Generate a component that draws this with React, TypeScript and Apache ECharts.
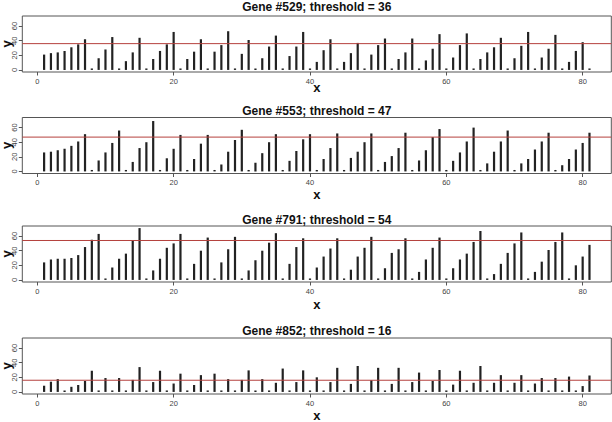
import React, { useEffect, useRef } from "react";
import * as echarts from "echarts";

const positions: number[] = Array.from({ length: 81 }, (_, i) => i + 1);

const geneIds = ["529", "553", "791", "852"];
const thresholds = [36, 47, 54, 16];

const gene529 = [
  21, 23, 24, 26, 31, 35, 42, 2, 16, 28,
  45, 2, 12, 24, 44, 2, 15, 26, 35, 52,
  2, 15, 25, 42, 2, 25, 34, 53, 2, 22,
  41, 2, 16, 32, 47, 2, 19, 32, 52, 2,
  11, 27, 42, 2, 11, 23, 37, 2, 21, 34,
  43, 2, 15, 24, 43, 2, 13, 29, 49, 2,
  17, 34, 50, 2, 15, 24, 31, 44, 2, 16,
  33, 52, 2, 17, 29, 48, 2, 11, 26, 38,
  2,
];
const gene553 = [
  26, 27, 29, 31, 35, 41, 51, 2, 15, 26,
  39, 56, 2, 13, 32, 40, 69, 2, 18, 31,
  50, 2, 17, 38, 50, 2, 9.5, 27, 43, 57,
  2, 12, 25, 40, 51, 2, 14.5, 28, 44, 51,
  2, 17, 32, 52, 2, 18.5, 27, 40, 52, 2,
  13, 21, 32, 53, 2, 15, 29, 47, 58, 2,
  14.5, 26, 41, 60, 2, 11, 27, 41, 56, 2,
  11, 17, 30, 41, 53, 2, 8.5, 17, 30, 39,
  53,
];
const gene791 = [
  24, 28, 29, 29, 30, 34, 45, 55, 63, 2,
  17, 29, 36, 54, 71, 2, 13, 29, 44, 50,
  63, 2, 22, 40, 58, 2, 24, 42, 59, 2,
  13, 27, 40, 51, 64, 2, 22, 45, 57, 2,
  17, 32, 43, 57, 2, 14, 32, 44, 59, 2,
  16, 37, 42, 57, 2, 11, 28, 44, 58, 2,
  16, 28, 36, 52, 67, 2, 8, 22, 37, 50,
  65, 2, 11, 25, 41, 52, 65, 2, 20, 32,
  48,
];
const gene852 = [
  8.5, 14, 17.5, 2, 7, 9.5, 15, 29, 2, 19,
  2, 19, 2, 16.5, 34, 2, 13.5, 29, 2, 11.5,
  25, 2, 9.5, 23, 2, 25, 2, 17.5, 2, 16.5,
  29.5, 2, 17.5, 2, 12.5, 32, 2, 13.5, 29.5, 2,
  20, 2, 13.5, 33, 2, 11, 35.5, 2, 16, 33,
  2, 11, 33, 2, 13.5, 26.5, 2, 15, 30, 2,
  10, 29, 2, 12.5, 35.5, 2, 12.5, 23, 2, 12.5,
  23, 2, 11.5, 19, 2, 19, 2, 21, 2, 8,
  22.5,
];
const geneValues = [gene529, gene553, gene791, gene852];

const xTicks = [0, 20, 40, 60, 80];
const yTicks = [0, 20, 40, 60];
const xRange = [-2.2, 84.2];
const yRange = [-2.84, 73.84];

const FONT = "'Liberation Sans', Arial, Helvetica, sans-serif";
const gridTops = [16, 117.5, 226, 338];
const gridHeight = 56;
const gridLeft = 22.3;
const gridRight = 0.7;
const titleCentres = [5.5, 109, 218.5, 329.5];
const xNameGaps = [10.7, 16.7, 17.7, 17];

export default function App() {
  const ref = useRef<HTMLDivElement>(null);

  useEffect(() => {
    if (!ref.current) return;
    const chart = echarts.init(ref.current, null, { renderer: "svg" });
    const plotCentre = gridLeft + (612 - gridLeft - gridRight) / 2;

    const grids = gridTops.map((top) => ({
      left: gridLeft,
      right: gridRight,
      top,
      height: gridHeight,
      containLabel: false,
      outerBoundsMode: "none",
      show: true,
      borderColor: "#555",
      borderWidth: 1,
      backgroundColor: "transparent",
    }));

    const xAxes = gridTops.map((_, i) => ({
      type: "value",
      gridIndex: i,
      position: "bottom",
      min: xRange[0],
      max: xRange[1],
      name: "x",
      nameLocation: "middle",
      nameGap: xNameGaps[i],
      nameMoveOverlap: false,
      nameTextStyle: { fontFamily: FONT, fontWeight: "bold", fontSize: 13, lineHeight: 9, color: "#111" },
      axisLine: { show: false, onZero: false },
      splitLine: { show: false },
      axisTick: { show: true, length: 3.5, customValues: xTicks, lineStyle: { color: "#555" } },
      axisLabel: { customValues: xTicks, fontFamily: FONT, fontSize: 7.5, color: "#444", margin: 5 },
    }));

    const yAxes = gridTops.map((_, i) => ({
      type: "value",
      gridIndex: i,
      position: "left",
      min: yRange[0],
      max: yRange[1],
      name: "y",
      nameLocation: "middle",
      nameGap: 10.5,
      nameMoveOverlap: false,
      nameTextStyle: { fontFamily: FONT, fontWeight: "bold", fontSize: 13, lineHeight: 10, color: "#111" },
      axisLine: { show: false, onZero: false },
      splitLine: { show: false },
      axisTick: { show: true, length: 3.5, customValues: yTicks, lineStyle: { color: "#555" } },
      axisLabel: { customValues: yTicks, rotate: 90, fontFamily: FONT, fontSize: 7.5, color: "#444", margin: 4 },
    }));

    const barSeries = geneValues.map((vals, i) => ({
      type: "bar",
      name: `Gene #${geneIds[i]}`,
      xAxisIndex: i,
      yAxisIndex: i,
      barWidth: 2.2,
      silent: true,
      itemStyle: { color: "#222" },
      data: positions.map((x, j) => [x, vals[j]]),
    }));

    const thresholdSeries = thresholds.map((t, i) => ({
      type: "line",
      name: `threshold ${geneIds[i]}`,
      xAxisIndex: i,
      yAxisIndex: i,
      symbol: "none",
      silent: true,
      z: 3,
      lineStyle: { color: "#b5413d", width: 1 },
      itemStyle: { color: "#b5413d" },
      data: [
        [xRange[0], t],
        [xRange[1], t],
      ],
    }));

    const titles = geneIds.map((id, i) => ({
      text: `Gene #${id}; threshold = ${thresholds[i]}`,
      left: plotCentre,
      top: titleCentres[i] - 4.5,
      textAlign: "center",
      padding: 0,
      textStyle: { fontFamily: FONT, fontWeight: "bold", fontSize: 12, color: "#111" },
    }));

    chart.setOption({
      animation: false,
      backgroundColor: "#fff",
      title: titles,
      grid: grids,
      xAxis: xAxes,
      yAxis: yAxes,
      series: [...barSeries, ...thresholdSeries],
    });
    return () => chart.dispose();
  }, []);

  return (
    <div
      ref={ref}
      style={{ position: "absolute", left: 0, top: 0, width: 612, height: 422 }}
    />
  );
}
